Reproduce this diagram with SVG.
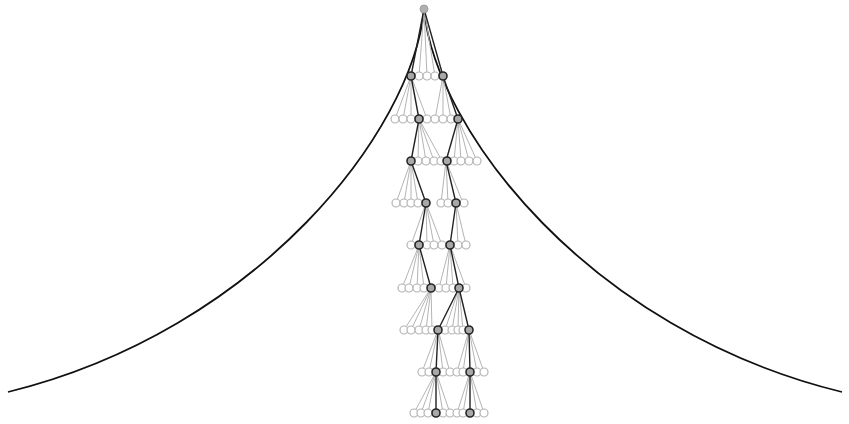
<svg xmlns="http://www.w3.org/2000/svg" width="849" height="424" viewBox="0 0 849 424">
<defs>
<style>
.e{stroke:#b4b4b4;stroke-width:1;fill:none}
.b{stroke:#222;stroke-width:1.4;fill:none}
.c{stroke:#111;stroke-width:1.8;fill:none}
.n{fill:#fff;stroke:#b4b4b4;stroke-width:1.2}
.d{fill:#a8a8a8;stroke:#262626;stroke-width:1.6}
.r{fill:#b0b0b0;stroke:#a0a0a0;stroke-width:1}
</style>
</defs>
<rect width="849" height="424" fill="#fff"/>
<g id="connectors">
<path class="c" d="M424,10 C412,130 260,330 8,392"/>
<path class="c" d="M424,10 C436,130 588,330 842,392"/>
<g id="grey-edges">
<path class="e" d="M424,9L419,76M424,9L427,76M424,9L435,76"/>
<path class="e" d="M411,76L395,119M411,76L403,119M411,76L411,119M411,76L427,119"/>
<path class="e" d="M443,76L435,119M443,76L443,119M443,76L451,119"/>
<path class="e" d="M419,119L418,161M419,119L426,161M419,119L434,161M419,119L442,161"/>
<path class="e" d="M458,119L454,161M458,119L461,161M458,119L469,161M458,119L477,161"/>
<path class="e" d="M411,161L396,203M411,161L404,203M411,161L411,203M411,161L418,203"/>
<path class="e" d="M446,161L441,203M446,161L448,203M446,161L463,203"/>
<path class="e" d="M426,203L411,245M426,203L427,245M426,203L434,245M426,203L442,245"/>
<path class="e" d="M456,203L458,245M456,203L466,245"/>
<path class="e" d="M419,245L402,288M419,245L409,288M419,245L417,288M419,245L424,288"/>
<path class="e" d="M450,245L439,288M450,245L446,288M450,245L453,288M450,245L466,288"/>
<path class="e" d="M431,288L404,330M431,288L411,330M431,288L419,330M431,288L426,330M431,288L432,330"/>
<path class="e" d="M459,288L445,330M459,288L452,330M459,288L458,330M459,288L463,330"/>
<path class="e" d="M438,330L422,372M438,330L429,372M438,330L443,372M438,330L450,372"/>
<path class="e" d="M469,330L457,372M469,330L463,372M469,330L477,372M469,330L484,372"/>
<path class="e" d="M436,372L414,413M436,372L421,413M436,372L428,413M436,372L443,413M436,372L450,413"/>
<path class="e" d="M470,372L457,413M470,372L463,413M470,372L477,413M470,372L484,413"/>
</g>
<g id="path-edges">
<path class="b" d="M424,9L411,76M424,9L443,76"/>
<path class="b" d="M411,76L419,119M443,76L458,119"/>
<path class="b" d="M419,119L411,161M458,119L446,161"/>
<path class="b" d="M411,161L426,203M446,161L456,203"/>
<path class="b" d="M426,203L419,245M456,203L450,245"/>
<path class="b" d="M419,245L431,288M450,245L459,288"/>
<path class="b" d="M459,288L438,330M459,288L469,330"/>
<path class="b" d="M438,330L436,372M469,330L470,372"/>
<path class="b" d="M436,372L436,413M470,372L470,413"/>
</g>
</g>
<g id="nodes">
<g id="root"><circle class="r" cx="424" cy="9" r="4"/></g>
<g id="level1">
<circle class="n" cx="419" cy="76" r="4"/><circle class="n" cx="427" cy="76" r="4"/><circle class="n" cx="435" cy="76" r="4"/>
<circle class="d" cx="411" cy="76" r="4"/><circle class="d" cx="443" cy="76" r="4"/>
</g>
<g id="level2">
<circle class="n" cx="395" cy="119" r="4"/><circle class="n" cx="403" cy="119" r="4"/><circle class="n" cx="411" cy="119" r="4"/><circle class="n" cx="427" cy="119" r="4"/><circle class="n" cx="435" cy="119" r="4"/><circle class="n" cx="443" cy="119" r="4"/><circle class="n" cx="451" cy="119" r="4"/>
<circle class="d" cx="419" cy="119" r="4"/><circle class="d" cx="458" cy="119" r="4"/>
</g>
<g id="level3">
<circle class="n" cx="418" cy="161" r="4"/><circle class="n" cx="426" cy="161" r="4"/><circle class="n" cx="434" cy="161" r="4"/><circle class="n" cx="441" cy="161" r="4"/><circle class="n" cx="454" cy="161" r="4"/><circle class="n" cx="461" cy="161" r="4"/><circle class="n" cx="469" cy="161" r="4"/><circle class="n" cx="477" cy="161" r="4"/>
<circle class="d" cx="411" cy="161" r="4"/><circle class="d" cx="447" cy="161" r="4"/>
</g>
<g id="level4">
<circle class="n" cx="396" cy="203" r="4"/><circle class="n" cx="404" cy="203" r="4"/><circle class="n" cx="411" cy="203" r="4"/><circle class="n" cx="418" cy="203" r="4"/><circle class="n" cx="441" cy="203" r="4"/><circle class="n" cx="448" cy="203" r="4"/><circle class="n" cx="464" cy="203" r="4"/>
<circle class="d" cx="426" cy="203" r="4"/><circle class="d" cx="456" cy="203" r="4"/>
</g>
<g id="level5">
<circle class="n" cx="411" cy="245" r="4"/><circle class="n" cx="427" cy="245" r="4"/><circle class="n" cx="434" cy="245" r="4"/><circle class="n" cx="442" cy="245" r="4"/><circle class="n" cx="458" cy="245" r="4"/><circle class="n" cx="466" cy="245" r="4"/>
<circle class="d" cx="419" cy="245" r="4"/><circle class="d" cx="450" cy="245" r="4"/>
</g>
<g id="level6">
<circle class="n" cx="402" cy="288" r="4"/><circle class="n" cx="409" cy="288" r="4"/><circle class="n" cx="417" cy="288" r="4"/><circle class="n" cx="424" cy="288" r="4"/><circle class="n" cx="439" cy="288" r="4"/><circle class="n" cx="446" cy="288" r="4"/><circle class="n" cx="453" cy="288" r="4"/><circle class="n" cx="466" cy="288" r="4"/>
<circle class="d" cx="431" cy="288" r="4"/><circle class="d" cx="459" cy="288" r="4"/>
</g>
<g id="level7">
<circle class="n" cx="404" cy="330" r="4"/><circle class="n" cx="411" cy="330" r="4"/><circle class="n" cx="419" cy="330" r="4"/><circle class="n" cx="426" cy="330" r="4"/><circle class="n" cx="432" cy="330" r="4"/><circle class="n" cx="445" cy="330" r="4"/><circle class="n" cx="452" cy="330" r="4"/><circle class="n" cx="458" cy="330" r="4"/><circle class="n" cx="463" cy="330" r="4"/>
<circle class="d" cx="438" cy="330" r="4"/><circle class="d" cx="469" cy="330" r="4"/>
</g>
<g id="level8">
<circle class="n" cx="422" cy="372" r="4"/><circle class="n" cx="429" cy="372" r="4"/><circle class="n" cx="443" cy="372" r="4"/><circle class="n" cx="450" cy="372" r="4"/><circle class="n" cx="457" cy="372" r="4"/><circle class="n" cx="463" cy="372" r="4"/><circle class="n" cx="477" cy="372" r="4"/><circle class="n" cx="484" cy="372" r="4"/>
<circle class="d" cx="436" cy="372" r="4"/><circle class="d" cx="470" cy="372" r="4"/>
</g>
<g id="level9">
<circle class="n" cx="414" cy="413" r="4"/><circle class="n" cx="421" cy="413" r="4"/><circle class="n" cx="428" cy="413" r="4"/><circle class="n" cx="443" cy="413" r="4"/><circle class="n" cx="450" cy="413" r="4"/><circle class="n" cx="457" cy="413" r="4"/><circle class="n" cx="463" cy="413" r="4"/><circle class="n" cx="477" cy="413" r="4"/><circle class="n" cx="484" cy="413" r="4"/>
<circle class="d" cx="436" cy="413" r="4"/><circle class="d" cx="470" cy="413" r="4"/>
</g>
</g>
</svg>
